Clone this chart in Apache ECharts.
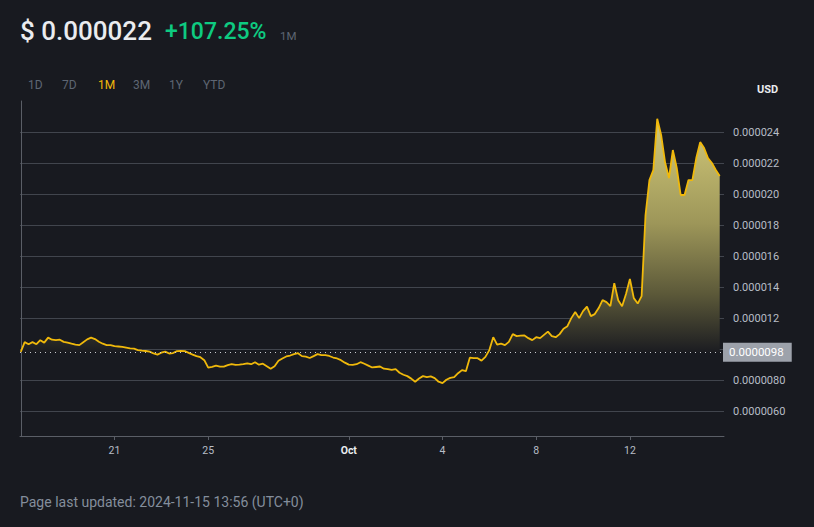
<!DOCTYPE html>
<html>
<head>
<meta charset="utf-8">
<script src="https://cdn.jsdelivr.net/npm/echarts@6/dist/echarts.min.js"></script>
<style>
  html, body { margin: 0; padding: 0; background: #181a20; }
  #chart { width: 814px; height: 527px; }
</style>
</head>
<body>
<div id="chart"></div>
<script>
// Prices in micro-USD (1e-6 USD), one sample every 4 hours
const prices = [
  9.82, 10.45, 10.32, 10.45, 10.32, 10.58, 10.42, 10.74, 10.61, 10.58,
  10.61, 10.47, 10.42, 10.35, 10.29, 10.26, 10.45, 10.63, 10.74, 10.65,
  10.48, 10.35, 10.26, 10.26, 10.19, 10.17, 10.15, 10.10, 10.05, 10.03,
  9.94, 9.90, 9.88, 9.84, 9.72, 9.65, 9.77, 9.84, 9.72, 9.75,
  9.87, 9.89, 9.87, 9.76, 9.65, 9.55, 9.48, 9.29, 8.81, 8.86,
  8.94, 8.87, 8.87, 8.97, 9.03, 8.98, 9.00, 9.03, 9.08, 9.03,
  9.16, 9.00, 9.06, 8.90, 8.74, 8.90, 9.25, 9.40, 9.53, 9.59,
  9.68, 9.74, 9.55, 9.52, 9.43, 9.55, 9.68, 9.61, 9.61, 9.56,
  9.46, 9.40, 9.29, 9.13, 9.00, 8.98, 9.03, 9.16, 9.06, 8.94,
  8.82, 8.85, 8.88, 8.74, 8.71, 8.66, 8.71, 8.48, 8.35, 8.26,
  8.10, 7.90, 8.11, 8.26, 8.19, 8.24, 8.13, 7.90, 7.81, 8.03,
  8.15, 8.19, 8.45, 8.65, 8.58, 9.45, 9.42, 9.42, 9.26, 9.50,
  9.94, 10.77, 10.29, 10.35, 10.26, 10.47, 10.97, 10.84, 10.87, 10.88,
  10.71, 10.58, 10.77, 10.71, 10.92, 11.13, 10.84, 10.77, 10.97, 11.32,
  11.48, 12.00, 12.39, 12.00, 12.45, 12.74, 12.13, 12.26, 12.65, 13.16,
  13.03, 12.77, 14.26, 13.16, 12.77, 13.55, 14.52, 13.29, 12.94, 13.42,
  18.65, 20.90, 21.55, 24.85, 23.81, 22.06, 21.03, 22.84, 21.68, 19.94,
  19.94, 20.90, 20.90, 22.32, 23.35, 22.97, 22.32, 22.00, 21.55, 21.16
];
const basePrice = 9.8;             // opening price of the period (micro-USD)
const tickIndex = [24, 48, 84, 108, 132, 156];
const tickLabels = ['21', '25', 'Oct', '4', '8', '12'];
const periods = ['1D', '7D', '1M', '3M', '1Y', 'YTD'];
const activePeriod = '1M';
const headerPrice = '$ 0.000022';
const headerChange = '+107.25%';
const footerText = 'Page last updated: 2024-11-15 13:56 (UTC+0)';

function fmtPrice(v) {
  v = +(+v).toPrecision(10);
  const d = 1 - Math.floor(Math.log10(v)) + 6;
  return (v / 1e6).toFixed(d);
}

const seriesData = prices.map((p, i) => [i, p]);
const periodX = [28, 62, 98, 133, 169, 203];

const chart = echarts.init(document.getElementById('chart'), null, { renderer: 'svg' });

const graphics = [
  { type: 'text', x: 20, y: 31, style: { text: headerPrice, fill: '#eaecef', font: '500 26px Roboto', verticalAlign: 'middle' } },
  { type: 'text', x: 165, y: 31.5, style: { text: headerChange, fill: '#0ecb81', font: '500 23px Roboto', verticalAlign: 'middle' } },
  { type: 'text', x: 280, y: 36, style: { text: activePeriod, fill: '#5e6673', font: '11.5px Roboto', verticalAlign: 'middle' } },
  { type: 'text', x: 757, y: 89.5, style: { text: 'USD', fill: '#eaecef', font: 'bold 11px Roboto', verticalAlign: 'middle' } },
  { type: 'text', x: 20, y: 502, style: { text: footerText, fill: '#848e9c', font: '14px Roboto', verticalAlign: 'middle' } }
];
periods.forEach((p, i) => {
  graphics.push({ type: 'text', x: periodX[i], y: 84.5, style: {
    text: p, fill: p === activePeriod ? '#f0b90b' : '#5e6673', font: '12px Roboto', verticalAlign: 'middle' } });
});

const option = {
  backgroundColor: '#181a20',
  animation: false,
  grid: { left: 20, right: 90, top: 101, bottom: 91 },
  xAxis: {
    type: 'value', min: -0.2, max: 180.1,
    axisLine: { show: true, lineStyle: { color: '#5a5e66', width: 1 } },
    axisTick: { show: true, customValues: tickIndex, length: 4, lineStyle: { color: '#5a5e66' } },
    axisLabel: {
      customValues: tickIndex, margin: 9, color: '#b7bdc6', fontSize: 10.5, fontFamily: 'Roboto',
      formatter: v => { const k = tickIndex.indexOf(Math.round(v)); const t = k >= 0 ? tickLabels[k] : ''; return t === 'Oct' ? '{b|Oct}' : t; },
      rich: { b: { color: '#eaecef', fontWeight: 'bold', fontSize: 10.5, fontFamily: 'Roboto' } }
    },
    splitLine: { show: false }
  },
  yAxis: {
    type: 'value', position: 'right', min: 4.4, max: 26, minInterval: 2, maxInterval: 2,
    axisLine: { show: true, lineStyle: { color: '#5a5e66', width: 1 } },
    axisTick: { show: false },
    axisLabel: {
      margin: 9, color: '#b7bdc6', fontSize: 11, fontFamily: 'Roboto', showMinLabel: false, showMaxLabel: false,
      // the tick nearest the opening price is hidden behind the price marker in the reference
      formatter: v => Math.abs(v - basePrice) < 1 ? '' : fmtPrice(v)
    },
    splitLine: { show: true, showMinLine: false, showMaxLine: false, lineStyle: { color: '#41454d', width: 1 } }
  },
  series: [{
    type: 'line', data: seriesData, showSymbol: false, symbol: 'none',
    lineStyle: { color: '#f0b90b', width: 1.8 },
    itemStyle: { color: '#f0b90b' },
    areaStyle: { origin: basePrice, color: '#1b1c21', opacity: 1 },
    markLine: {
      silent: true, symbol: ['none', 'none'],
      lineStyle: { color: '#c9ccd1', type: [1, 4], width: 1 },
      label: {
        show: true, position: 'end', distance: 0, offset: [-1, 0], formatter: () => fmtPrice(basePrice),
        backgroundColor: '#9da2ab', color: '#ffffff', fontSize: 11.5, fontFamily: 'Roboto', padding: [4, 8, 3, 6]
      },
      data: [{ yAxis: basePrice }]
    }
  }],
  graphic: graphics
};
chart.setOption(option);

const yTop = chart.convertToPixel({ yAxisIndex: 0 }, 24.9);
const yBase = chart.convertToPixel({ yAxisIndex: 0 }, basePrice);
chart.setOption({
  series: [{
    areaStyle: {
      origin: basePrice, opacity: 1,
      color: new echarts.graphic.LinearGradient(0, yTop, 0, yBase, [
        { offset: 0, color: '#d3ca7a' },
        { offset: 0.45, color: '#9d9659' },
        { offset: 0.75, color: '#5c5939' },
        { offset: 1, color: '#1b1c21' }
      ], true)
    }
  }]
});
</script>
</body>
</html>
